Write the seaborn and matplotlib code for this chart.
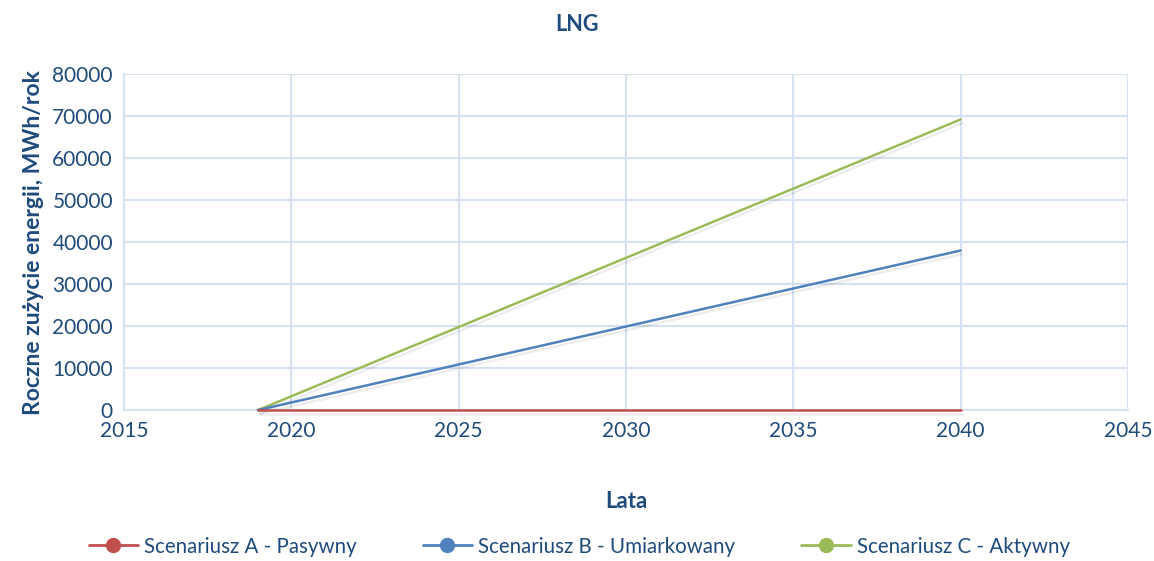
import pandas as pd
import matplotlib.pyplot as plt
import matplotlib.patheffects as pe
from matplotlib.lines import Line2D
import seaborn as sns

# Data
years = [2019, 2040]
scen_a = [0, 0]
scen_b = [0, 38000]
scen_c = [0, 69200]
labels = ["Scenariusz A - Pasywny", "Scenariusz B - Umiarkowany", "Scenariusz C - Aktywny"]
colors = ["#C0504D", "#4F81BD", "#9BBB59"]

df = pd.DataFrame({
    "Lata": years * 3,
    "value": scen_a + scen_b + scen_c,
    "scen": [labels[0]] * 2 + [labels[1]] * 2 + [labels[2]] * 2,
})

sns.set_theme(style="white")
plt.rcParams["font.family"] = ["Lato", "DejaVu Sans"]
text_col = "#1F4A7C"
grid_col = "#D6E1F1"

fig = plt.figure(figsize=(11.54, 5.61), dpi=100)
ax = fig.add_axes([0.1075, 0.269, 0.87, 0.599])

# draw C first, A last so the flat red line sits on top
sns.lineplot(data=df, x="Lata", y="value", hue="scen", palette=dict(zip(labels, colors)),
             hue_order=labels[::-1], linewidth=1.8, legend=False, ax=ax)
for i, ln in enumerate(ax.lines):
    ln.set_zorder(3 + i)
    ln.set_clip_on(False)
    ln.set_path_effects([pe.SimpleLineShadow(offset=(1.5, -2.5), alpha=0.07, shadow_color="black"),
                         pe.Normal()])

ax.set_xlim(2015, 2045)
ax.set_ylim(0, 80000)
ax.set_xticks(range(2015, 2046, 5))
ax.set_yticks(range(0, 80001, 10000))
ax.grid(True, color=grid_col, linewidth=1.5)
ax.set_axisbelow(True)
for s in ["top", "right"]:
    ax.spines[s].set_visible(False)
for s in ["left", "bottom"]:
    ax.spines[s].set_color(grid_col)
    ax.spines[s].set_linewidth(1.5)
ax.tick_params(axis="both", length=0, labelsize=15, colors=text_col, pad=8)

ax.set_xlabel("Lata", fontsize=16, fontweight="bold", color=text_col, labelpad=36)
ax.set_ylabel("Roczne zużycie energii, MWh/rok", fontsize=16.5, fontweight="bold",
              color=text_col, labelpad=6)
fig.suptitle("LNG", x=0.5, y=0.975, fontsize=15.5, fontweight="bold", color=text_col)

handles = [Line2D([], [], color=c, marker="o", markersize=10, linewidth=2) for c in colors]
fig.legend(handles, labels, loc="lower center", ncol=3, frameon=False,
           bbox_to_anchor=(0.502, -0.025), fontsize=14.8, labelcolor=text_col,
           handlelength=2.4, columnspacing=3.2, handletextpad=0.3)

fig.savefig("out.png", dpi=100)
